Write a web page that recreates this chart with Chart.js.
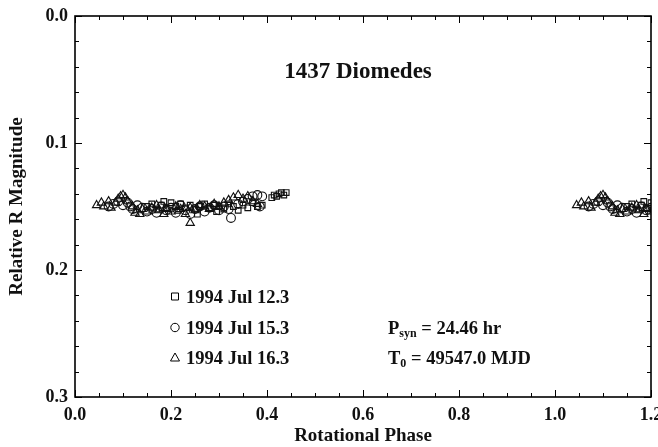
<!DOCTYPE html>
<html>
<head>
<meta charset="utf-8">
<script src="https://cdn.jsdelivr.net/npm/chart.js@4.4.1/dist/chart.umd.min.js"></script>
<style>
  body { margin: 0; background: #fff; }
  canvas { display: block; }
</style>
</head>
<body>
<canvas id="lightCurve" width="658" height="447"></canvas>
<script>
// DATA (phase, relative R magnitude)
const jul12Phase = [0.15, 0.16, 0.17, 0.18, 0.185, 0.19, 0.20, 0.21, 0.215, 0.22, 0.23, 0.24, 0.25, 0.255, 0.26, 0.27, 0.28, 0.29, 0.295, 0.30, 0.31, 0.32, 0.33, 0.34, 0.35, 0.36, 0.37, 0.38, 0.39, 0.41, 0.415, 0.42, 0.425, 0.43, 0.435, 0.44];
const jul12Mag   = [0.150, 0.148, 0.152, 0.149, 0.146, 0.151, 0.147, 0.150, 0.153, 0.148, 0.151, 0.149, 0.152, 0.156, 0.150, 0.148, 0.151, 0.149, 0.154, 0.150, 0.152, 0.148, 0.150, 0.153, 0.149, 0.151, 0.147, 0.150, 0.149, 0.143, 0.141, 0.142, 0.140, 0.139, 0.141, 0.139];

const jul15Phase = [0.07, 0.08, 0.09, 0.10, 0.11, 0.115, 0.12, 0.13, 0.14, 0.15, 0.16, 0.17, 0.18, 0.19, 0.20, 0.21, 0.22, 0.23, 0.24, 0.25, 0.26, 0.27, 0.28, 0.29, 0.30, 0.31, 0.32, 0.325, 0.34, 0.35, 0.36, 0.37, 0.38, 0.385, 0.39];
const jul15Mag   = [0.150, 0.148, 0.146, 0.149, 0.147, 0.150, 0.152, 0.149, 0.151, 0.154, 0.152, 0.155, 0.150, 0.153, 0.151, 0.155, 0.149, 0.153, 0.156, 0.152, 0.150, 0.154, 0.151, 0.149, 0.153, 0.150, 0.152, 0.159, 0.148, 0.146, 0.144, 0.142, 0.141, 0.150, 0.142];

const jul16Phase = [0.045, 0.055, 0.06, 0.07, 0.075, 0.085, 0.09, 0.095, 0.10, 0.105, 0.11, 0.12, 0.125, 0.13, 0.135, 0.14, 0.15, 0.16, 0.17, 0.175, 0.185, 0.19, 0.20, 0.21, 0.22, 0.23, 0.24, 0.24, 0.25, 0.26, 0.27, 0.28, 0.29, 0.30, 0.31, 0.32, 0.33, 0.34, 0.35, 0.36, 0.37, 0.38];
const jul16Mag   = [0.149, 0.147, 0.150, 0.146, 0.151, 0.147, 0.144, 0.142, 0.141, 0.143, 0.146, 0.150, 0.155, 0.153, 0.156, 0.152, 0.154, 0.151, 0.149, 0.153, 0.156, 0.152, 0.154, 0.150, 0.152, 0.156, 0.151, 0.163, 0.153, 0.149, 0.150, 0.152, 0.148, 0.150, 0.147, 0.145, 0.143, 0.141, 0.144, 0.142, 0.146, 0.148];

const seriesLabels = ['1994 Jul 12.3', '1994 Jul 15.3', '1994 Jul 16.3'];
const seriesShapes = ['rect', 'circle', 'triangle'];
const xTicks = [0.0, 0.2, 0.4, 0.6, 0.8, 1.0, 1.2];
const yTicks = [0.0, 0.1, 0.2, 0.3];

const SERIF = '"Liberation Serif", "DejaVu Serif", serif';

// phased light curve: points repeated one cycle later
function phased(phase, mag) {
    const pts = phase.map((p, i) => ({ x: p, y: mag[i] }));
    phase.forEach((p, i) => { if (p + 1 <= 1.21) pts.push({ x: p + 1, y: mag[i] }); });
    return pts;
}

const allSeries = [[jul12Phase, jul12Mag], [jul15Phase, jul15Mag], [jul16Phase, jul16Mag]];
const datasets = allSeries.map((s, i) => ({
    label: seriesLabels[i],
    data: phased(s[0], s[1]),
    pointStyle: seriesShapes[i],
    pointRadius: seriesShapes[i] === 'triangle' ? 4.8 : (seriesShapes[i] === 'rect' ? 4 : 4.4),
    pointBorderColor: '#111',
    pointBackgroundColor: 'rgba(0,0,0,0)',
    pointBorderWidth: 1.1,
    showLine: false
}));

// frame, inner ticks, title, legend and notes
const decorations = {
    id: 'decorations',
    afterDraw(chart) {
        const { ctx, chartArea: a, scales: { x, y } } = chart;
        ctx.save();
        ctx.strokeStyle = '#000';
        ctx.lineWidth = 1.6;
        ctx.strokeRect(a.left, a.top, a.right - a.left, a.bottom - a.top);

        ctx.lineWidth = 1;
        ctx.beginPath();
        for (let v = 0; v <= 1.2001; v += 0.05) {
            const px = Math.round(x.getPixelForValue(v)) + 0.5;
            const major = Math.abs(v / 0.2 - Math.round(v / 0.2)) < 1e-6;
            const len = major ? 7 : 4;
            ctx.moveTo(px, a.bottom); ctx.lineTo(px, a.bottom - len);
            ctx.moveTo(px, a.top); ctx.lineTo(px, a.top + len);
        }
        for (let v = 0; v <= 0.3001; v += 0.02) {
            const py = Math.round(y.getPixelForValue(v)) + 0.5;
            const major = Math.abs(v / 0.1 - Math.round(v / 0.1)) < 1e-6;
            const len = major ? 7 : 4;
            ctx.moveTo(a.left, py); ctx.lineTo(a.left + len, py);
            ctx.moveTo(a.right, py); ctx.lineTo(a.right - len, py);
        }
        ctx.stroke();

        ctx.fillStyle = '#111';
        ctx.textBaseline = 'alphabetic';
        ctx.textAlign = 'center';
        ctx.font = 'bold 23px ' + SERIF;
        ctx.fillText('1437 Diomedes', 358, 78);

        // legend
        ctx.textAlign = 'left';
        ctx.font = 'bold 18.5px ' + SERIF;
        const rows = [297, 328, 358];
        ctx.lineWidth = 1;
        rows.forEach((ry, i) => {
            const cx = 175, cy = ry - 0.5;
            ctx.beginPath();
            if (seriesShapes[i] === 'rect') ctx.rect(cx - 3.5, cy - 3.5, 7, 7);
            else if (seriesShapes[i] === 'circle') ctx.arc(cx, cy, 4.2, 0, Math.PI * 2);
            else { ctx.moveTo(cx, cy - 4.5); ctx.lineTo(cx + 4.5, cy + 3.5); ctx.lineTo(cx - 4.5, cy + 3.5); ctx.closePath(); }
            ctx.stroke();
            ctx.fillText(seriesLabels[i], 186, ry + 6);
        });

        // notes with subscripts
        function subText(main, sub, rest, px, py) {
            ctx.font = 'bold 18.5px ' + SERIF;
            ctx.fillText(main, px, py);
            let w = ctx.measureText(main).width;
            ctx.font = 'bold 12px ' + SERIF;
            ctx.fillText(sub, px + w, py + 3);
            w += ctx.measureText(sub).width;
            ctx.font = 'bold 18.5px ' + SERIF;
            ctx.fillText(rest, px + w, py);
        }
        subText('P', 'syn', ' = 24.46 hr', 388, 334);
        subText('T', '0', ' = 49547.0 MJD', 388, 364);
        ctx.restore();
    }
};

new Chart(document.getElementById('lightCurve'), {
    type: 'scatter',
    data: { datasets },
    options: {
        responsive: false,
        animation: false,
        layout: { padding: { top: 16, right: 7, left: 0, bottom: 0 } },
        plugins: { legend: { display: false }, tooltip: { enabled: false } },
        scales: {
            x: {
                type: 'linear', min: 0, max: 1.2,
                afterBuildTicks: s => { s.ticks = xTicks.map(v => ({ value: v })); },
                afterFit: s => { s.height = 50; s.paddingLeft = 0; s.paddingRight = 0; },
                grid: { display: false, drawTicks: false },
                border: { display: false },
                ticks: {
                    padding: 8, color: '#111',
                    font: { family: SERIF, size: 18, weight: 'bold' },
                    callback: v => v.toFixed(1),
                    maxRotation: 0
                },
                title: {
                    display: true, text: 'Rotational Phase', color: '#111',
                    font: { family: SERIF, size: 19, weight: 'bold' },
                    padding: { top: 0, bottom: 0 }
                }
            },
            y: {
                type: 'linear', min: 0, max: 0.3, reverse: true,
                afterBuildTicks: s => { s.ticks = yTicks.map(v => ({ value: v })); },
                afterFit: s => { s.width = 75; s.paddingTop = 0; s.paddingBottom = 0; },
                grid: { display: false, drawTicks: false },
                border: { display: false },
                ticks: {
                    padding: 7, color: '#111',
                    font: { family: SERIF, size: 18, weight: 'bold' },
                    callback: v => v.toFixed(1)
                },
                title: {
                    display: true, text: 'Relative R Magnitude', color: '#111',
                    font: { family: SERIF, size: 19, weight: 'bold' },
                    padding: { top: 6, bottom: 0 }
                }
            }
        }
    },
    plugins: [decorations]
});
</script>
</body>
</html>
